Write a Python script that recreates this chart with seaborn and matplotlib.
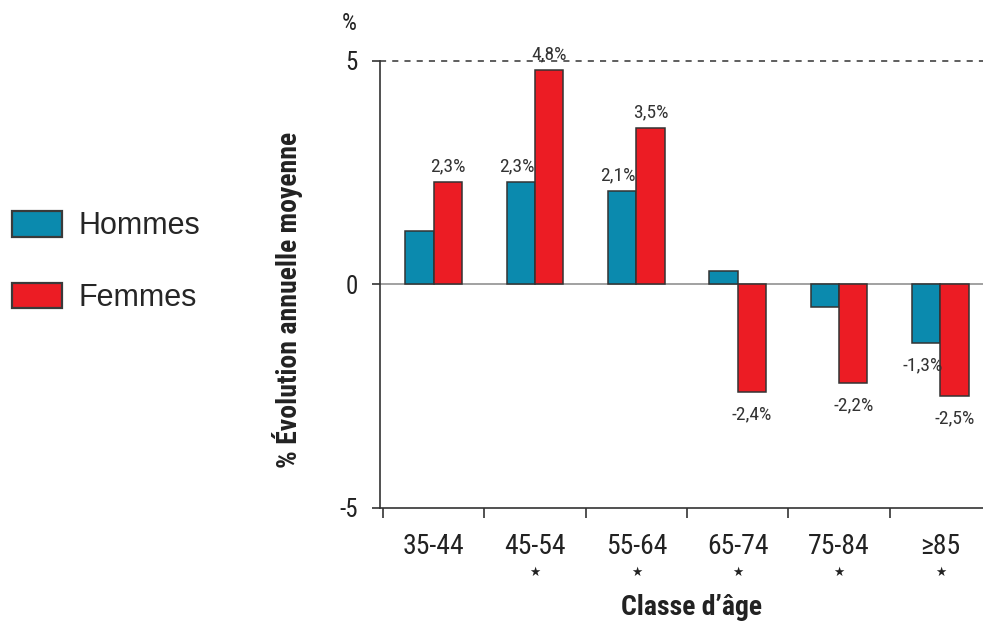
import matplotlib
matplotlib.use("Agg")
import matplotlib.pyplot as plt
from matplotlib.patches import Patch
from matplotlib import font_manager
import seaborn as sns
import pandas as pd

# Data
categories = ["35-44", "45-54", "55-64", "65-74", "75-84", "≥85"]
significant = [False, True, True, True, True, True]
hommes = [1.2, 2.3, 2.1, 0.3, -0.5, -1.3]
femmes = [2.3, 4.8, 3.5, -2.4, -2.2, -2.5]
show_hommes = [False, True, True, False, False, True]
show_femmes = [True, True, True, True, True, True]
series = ["Hommes", "Femmes"]
colors = {"Hommes": "#0b8aae", "Femmes": "#ec1c24"}

df = pd.DataFrame({
    "classe": categories * 2,
    "sexe": [series[0]] * len(categories) + [series[1]] * len(categories),
    "valeur": hommes + femmes,
})

sns.set_theme(style="white")

# pick a condensed sans-serif for the chart texts
available = {f.name for f in font_manager.fontManager.ttflist}
condensed = next((n for n in ["Roboto Condensed", "Arial Narrow",
                              "Liberation Sans Narrow", "Archivo Narrow",
                              "PT Sans Narrow", "Asap Condensed",
                              "Barlow Condensed"] if n in available),
                 "DejaVu Sans")
narrow = [condensed, "DejaVu Sans"]
plt.rcParams["font.family"] = narrow

fig = plt.figure(figsize=(9.83, 6.21), dpi=100)
ax = fig.add_axes([0.3866, 0.182, 0.6134, 0.7198])

sns.barplot(data=df, x="classe", y="valeur", hue="sexe", order=categories,
            hue_order=series, palette=colors, width=0.56, dodge=True,
            saturation=1, edgecolor="#333333", linewidth=1.1, errorbar=None,
            legend=False, ax=ax)

ax.set_xlim(-0.53, 5.42)
ax.set_ylim(-5, 5)
ax.set_yticks([-5, 0, 5])
ax.set_yticklabels(["-5", "0", "5"], fontsize=18, color="#222222")

for s in ["top", "right"]:
    ax.spines[s].set_visible(False)
for s in ["left", "bottom"]:
    ax.spines[s].set_color("#333333")
    ax.spines[s].set_linewidth(1.2)

ax.axhline(0, color="#888888", lw=1.1, zorder=0.5)
ax.axhline(5, color="#333333", lw=1.1, ls=(0, (4, 4)), clip_on=False, zorder=0.5)

ax.set_xticks([i - 0.5 for i in range(len(categories))], minor=False)
ax.set_xticklabels([])
ax.set_xticks(range(len(categories)), minor=True)
ax.set_xticklabels(categories, minor=True, fontsize=20, color="#222222")
ax.tick_params(axis="x", which="major", direction="out", length=7,
               width=1.2, color="#333333", bottom=True)
ax.tick_params(axis="x", which="minor", length=0, pad=18)
ax.tick_params(axis="y", direction="out", length=6, width=1.2,
               color="#333333", left=True, pad=10)

# significance markers under the age classes
for i, sig in enumerate(significant):
    if sig:
        ax.text(i, -0.145, "★", transform=ax.get_xaxis_transform(),
                ha="center", va="center", fontsize=9, color="#222222",
                family=["DejaVu Sans"])

def fmt(v):
    return f"{v:.1f}".replace(".", ",") + "%"

bw = 0.28
for i in range(len(categories)):
    for vals, show, off in ((hommes, show_hommes, -bw / 2), (femmes, show_femmes, bw / 2)):
        v = vals[i]
        if not show[i]:
            continue
        dx = -0.04 if off < 0 else 0
        if v >= 0:
            ax.text(i + off + dx, v + 0.15, fmt(v), ha="center", va="bottom",
                    fontsize=14, color="#333333", clip_on=False)
        else:
            ax.text(i + off + dx, v - 0.3, fmt(v), ha="center", va="top",
                    fontsize=14, color="#333333")

ax.set_xlabel("Classe d’âge", fontsize=20, fontweight="bold", color="#222222")
ax.xaxis.set_label_coords(0.516, -0.193)
ax.set_ylabel("% Évolution annuelle moyenne", fontsize=20, fontweight="bold",
              color="#222222")
ax.yaxis.set_label_coords(-0.128, 0.465)
fig.text(0.355, 0.962, "%", fontsize=17, ha="center", va="center",
         color="#222222")

handles = [Patch(facecolor=colors[s], edgecolor="#3a3a3a", linewidth=1.6)
           for s in series]
fig.legend(handles, series, loc="upper left", bbox_to_anchor=(-0.003, 0.685),
           frameon=False, handlelength=1.63, handleheight=0.92,
           labelspacing=1.35, handletextpad=0.55, borderpad=0,
           prop={"family": "Liberation Sans", "size": 22})

fig.savefig("out.png", dpi=100)
